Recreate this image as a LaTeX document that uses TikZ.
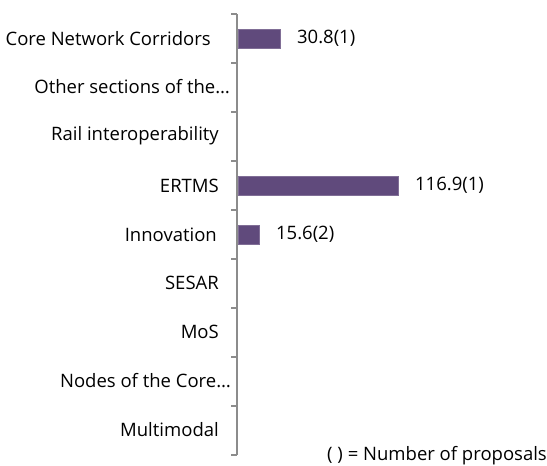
\documentclass[tikz,border=0pt]{standalone}
\usepackage{fontspec}
\setmainfont{Open Sans}
\usepackage{xcolor}
\definecolor{mpurple}{RGB}{96,74,124}
\definecolor{mgray}{RGB}{140,140,140}

\begin{document}
\begin{tikzpicture}[x=1pt,y=-1pt,font=\fontsize{18.5}{22}\selectfont]
  \tikzset{bar/.style={fill=mpurple,draw=mpurple!80!white,line width=0.4pt,minimum height=19pt,inner sep=0pt,anchor=west},
           cat label/.style={anchor=east,inner sep=0pt},
           val label/.style={anchor=west,inner sep=0pt,xshift=17pt}}
  \useasboundingbox (0,0) rectangle (547,466);

  % axis
  \coordinate (top) at (237,14);
  \coordinate (bottom) at (237,455);
  \draw [mgray, line width=1.3pt] (top) -- (bottom);
  \foreach \y [count=\i] in {14,63,112,161,210,259,308,357,406,455}{
    \coordinate (t\i) at (237,\y);
    \draw [mgray, line width=1.3pt] (t\i) -- ++(-6,0);
  }

  % categories
  \node [cat label] (c1) at (211,38.5) {Core Network Corridors};
  \node [cat label] (c2) at (230,87) {Other sections of the\dots};
  \node [cat label] (c3) at (219,136) {Rail interoperability};
  \node [cat label] (c4) at (219,185.5) {ERTMS};
  \node [cat label] (c5) at (217,234.5) {Innovation};
  \node [cat label] (c6) at (219,283) {SESAR};
  \node [cat label] (c7) at (219,332) {MoS};
  \node [cat label] (c8) at (231,381) {Nodes of the Core\dots};
  \node [cat label] (c9) at (219,430) {Multimodal};

  % bars
  \node [bar, minimum width=42pt] (b1) at (237.5,38.5) {};
  \node [val label] at (b1.east) {30.8(1)};
  \node [bar, minimum width=160pt] (b4) at (237.5,185.5) {};
  \node [val label] at (b4.east) {116.9(1)};
  \node [bar, minimum width=21pt] (b5) at (237.5,234.5) {};
  \node [val label] at (b5.east) {15.6(2)};

  \node [anchor=base east, inner sep=0pt] (note) at (547,460.5) {( ) = Number of proposals};
\end{tikzpicture}
\end{document}
